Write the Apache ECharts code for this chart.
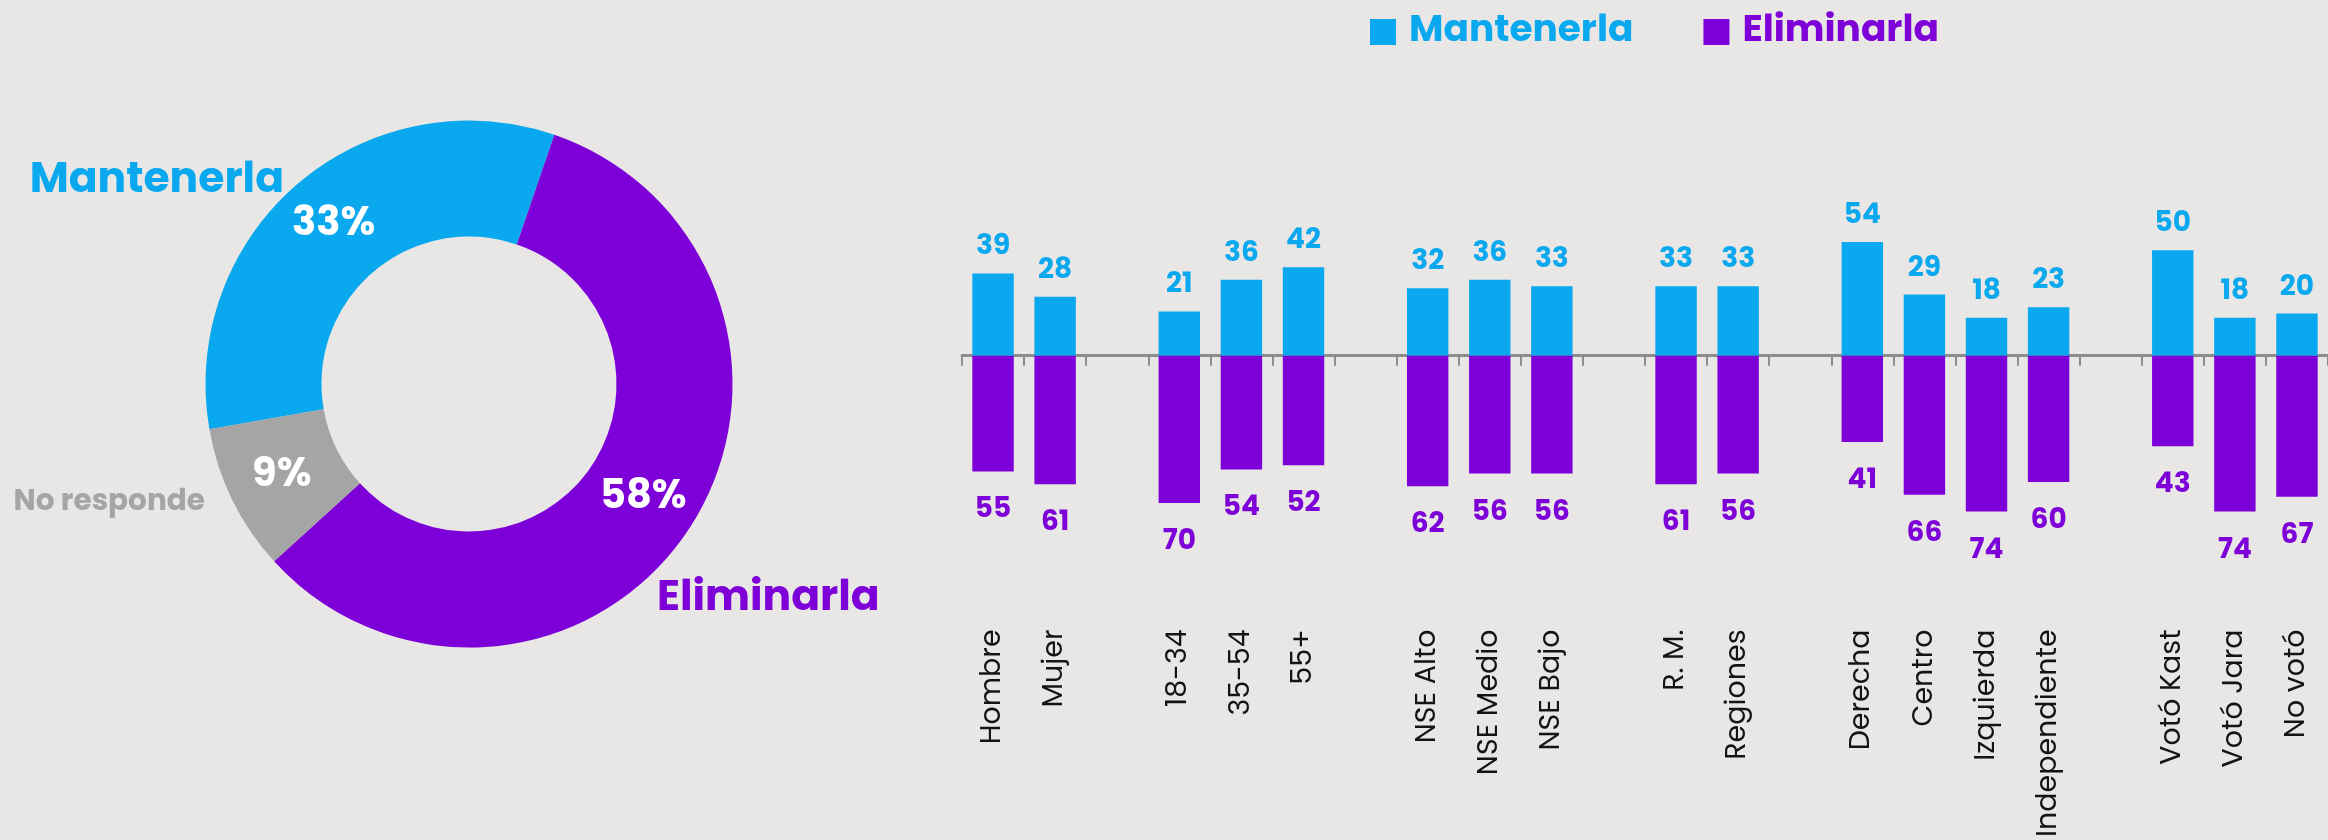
<!DOCTYPE html>
<html><head><meta charset="utf-8">
<script src="https://cdn.jsdelivr.net/npm/echarts@6/dist/echarts.min.js"></script>
<style>html,body{margin:0;padding:0;background:#E8E7E5}#c{width:2328px;height:840px}</style>
</head><body><div id="c"></div>
<script>
// ---- data ----
const groups = [
  ["Hombre", "Mujer"],
  ["18-34", "35-54", "55+"],
  ["NSE Alto", "NSE Medio", "NSE Bajo"],
  ["R. M.", "Regiones"],
  ["Derecha", "Centro", "Izquierda", "Independiente"],
  ["Votó Kast", "Votó Jara", "No votó"]
];
const mantenerla = [39, 28, 21, 36, 42, 32, 36, 33, 33, 33, 54, 29, 18, 23, 50, 18, 20];
const eliminarla = [55, 61, 70, 54, 52, 62, 56, 56, 61, 56, 41, 66, 74, 60, 43, 74, 67];
const pieNames = ["Mantenerla", "Eliminarla", "No responde"];
const pieValues = [33, 58, 9];
const seriesNames = ["Mantenerla", "Eliminarla"];

// ---- styles ----
const BLUE = '#0AA8EE', PURPLE = '#7E00D8', GRAY = '#A5A5A5', AXIS = '#8C8C8C';
const FONT = 'Poppins, Inter, sans-serif';
const pieColors = [BLUE, PURPLE, GRAY];

// build category axis with spacer slots between groups
const cats = [], mData = [], eData = [];
let k = 0;
groups.forEach((g, gi) => {
  if (gi > 0) { cats.push(' '.repeat(gi)); mData.push(null); eData.push(null); }
  g.forEach(name => { cats.push(name); mData.push(mantenerla[k]); eData.push(-eliminarla[k]); k++; });
});

const namePos = [
  {x: 284, y: 181, align: 'right'},
  {x: 657, y: 599, align: 'left'},
  {x: 205, y: 503, align: 'right'}
];

const chart = echarts.init(document.getElementById('c'));
chart.setOption({
  backgroundColor: '#E8E7E5',
  animation: false,
  legend: {
    left: 1365, top: 8, icon: 'rect', itemWidth: 26, itemHeight: 26, itemGap: 70,
    textStyle: {fontSize: 37.5, fontWeight: 'bold', fontFamily: FONT, padding: [0, 0, 0, 8]},
    data: [
      {name: seriesNames[0], textStyle: {color: BLUE}},
      {name: seriesNames[1], textStyle: {color: PURPLE}}
    ]
  },
  grid: {left: 962, right: -9, top: 145, bottom: 225},
  xAxis: [
    {
      type: 'category', data: cats, position: 'bottom',
      axisLine: {onZero: true, lineStyle: {color: AXIS, width: 3}},
      axisTick: {show: true, interval: 0, length: 10, lineStyle: {color: AXIS, width: 2}},
      axisLabel: {show: false, interval: 0}
    },
    {
      type: 'category', data: cats, position: 'bottom',
      axisLine: {show: false, onZero: false},
      axisTick: {show: false},
      axisLabel: {show: true, interval: 0, rotate: 90, margin: 21, fontSize: 28.5, color: '#141414', fontFamily: FONT}
    }
  ],
  yAxis: {type: 'value', min: -120, max: 100, show: false, splitLine: {show: false}},
  series: [
    {
      type: 'bar', name: seriesNames[0], stack: 's', barWidth: '66.7%', data: mData,
      itemStyle: {color: BLUE},
      label: {show: true, position: 'top', distance: 12, color: BLUE, fontSize: 28, fontWeight: 'bold', fontFamily: FONT}
    },
    {
      type: 'bar', name: seriesNames[1], stack: 's', barWidth: '66.7%', data: eData,
      itemStyle: {color: PURPLE},
      label: {show: true, position: 'bottom', distance: 25, color: PURPLE, fontSize: 28, fontWeight: 'bold', fontFamily: FONT,
        formatter: p => Math.abs(p.value)}
    },
    {
      type: 'pie', center: [469, 384], radius: [147.5, 263.5], startAngle: 189.9, clockwise: true,
      avoidLabelOverlap: false, legendHoverLink: false,
      data: pieNames.map((n, i) => ({name: n, value: pieValues[i], itemStyle: {color: pieColors[i]}})),
      label: {show: true, position: 'inside', formatter: '{c}%', color: '#FFFFFF', fontSize: 40, fontWeight: 'bold', fontFamily: FONT},
      labelLine: {show: false}
    },
    {
      type: 'pie', center: [469, 384], radius: [147.5, 263.5], startAngle: 189.9, clockwise: true,
      silent: true, avoidLabelOverlap: false, z: 1,
      data: pieNames.map((n, i) => ({name: n, value: pieValues[i],
        itemStyle: {color: 'rgba(0,0,0,0)'},
        label: {color: pieColors[i], fontSize: i === 2 ? 29.5 : 42.5}})),
      label: {show: true, position: 'outside', formatter: '{b}', fontWeight: 'bold', fontFamily: FONT},
      labelLine: {show: false},
      labelLayout: p => ({x: namePos[p.dataIndex].x, y: namePos[p.dataIndex].y, align: namePos[p.dataIndex].align, verticalAlign: 'middle'})
    }
  ]
});
</script>
</body></html>
